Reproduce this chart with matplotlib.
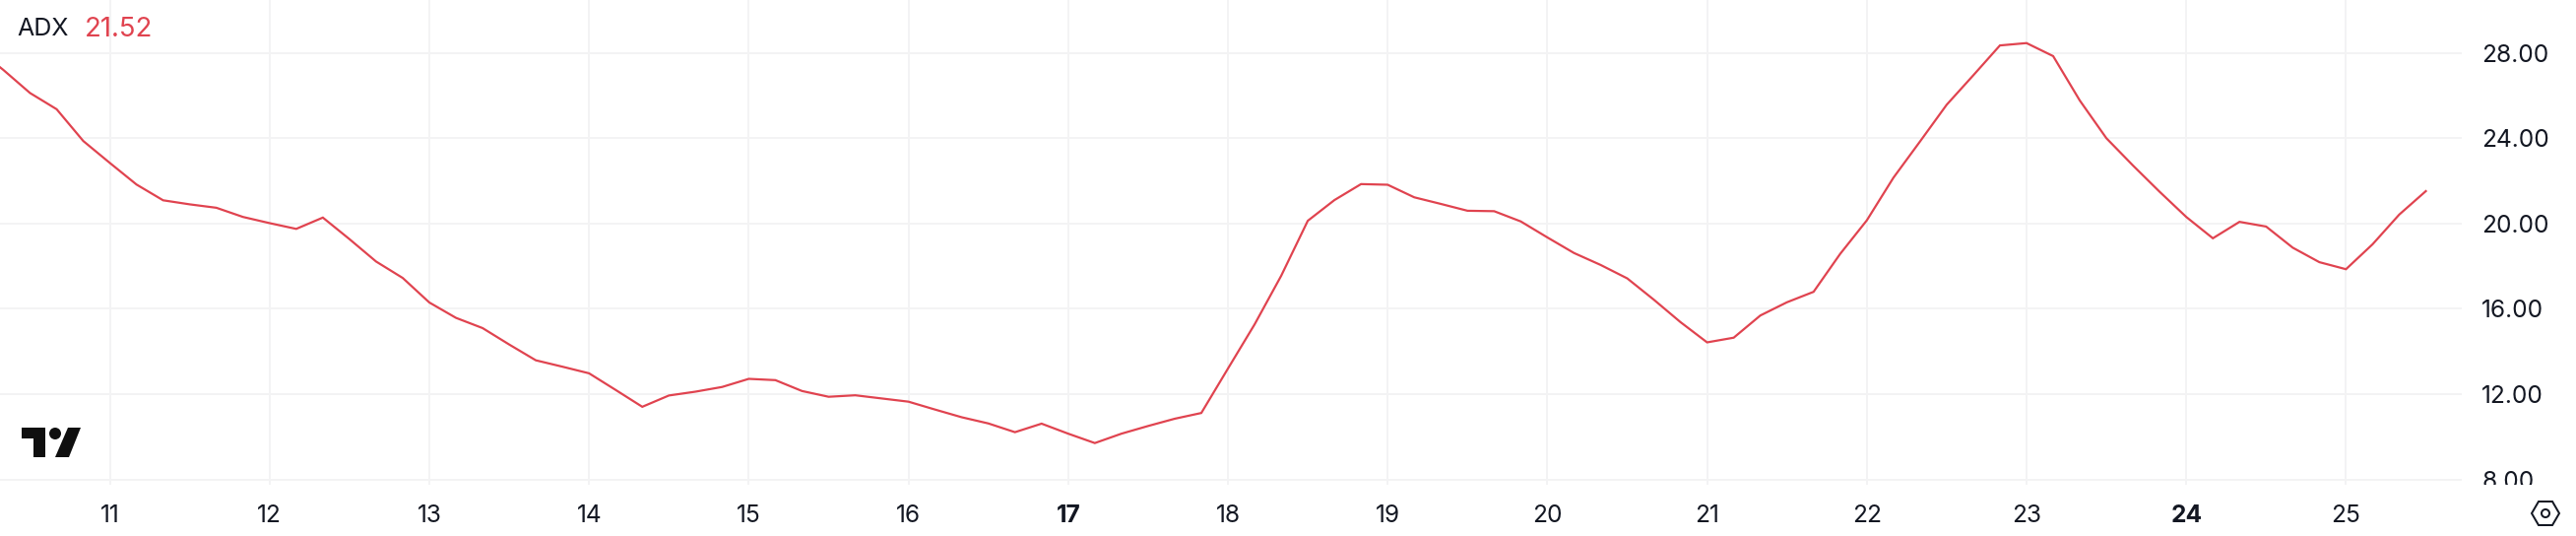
import numpy as np
import matplotlib
matplotlib.use("Agg")
import matplotlib.pyplot as plt
from matplotlib.patches import Polygon, Circle
from matplotlib.transforms import Affine2D, Bbox

W, H = 2616, 544
RED = "#e0434f"
INK = "#131722"
GRID = "#f3f3f4"

# 4h candles, first one sits just left of the visible area
first_day = 10 + 1 / 6
adx = [
	28.2, 27.2, 26.12, 25.36, 23.87, 22.84, 21.83, 21.09, 20.9, 20.74, 20.31, 20.02,
	19.75, 20.28, 19.27, 18.22, 17.45, 16.3, 15.58, 15.1, 14.33, 13.59, 13.29, 12.98,
	12.2, 11.41, 11.94, 12.12, 12.34, 12.72, 12.66, 12.15, 11.88, 11.95, 11.8, 11.65,
	11.28, 10.92, 10.63, 10.22, 10.62, 10.15, 9.71, 10.15, 10.51, 10.85, 11.12, 13.2,
	15.27, 17.55, 20.13, 21.1, 21.85, 21.82, 21.23, 20.92, 20.6, 20.58, 20.1, 19.35,
	18.62, 18.06, 17.43, 16.43, 15.38, 14.43, 14.65, 15.69, 16.31, 16.8, 18.58, 20.15,
	22.15, 23.85, 25.57, 26.95, 28.35, 28.46, 27.85, 25.77, 24.0, 22.72, 21.49, 20.31,
	19.31, 20.08, 19.86, 18.87, 18.19, 17.86, 19.03, 20.42, 21.52,
]
day_ticks = [11, 12, 13, 14, 15, 16, 17, 18, 19, 20, 21, 22, 23, 24, 25]
bold_days = [17, 24]
y_ticks = [8, 12, 16, 20, 24, 28]
y_labels = ["8.00", "12.00", "16.00", "20.00", "24.00", "28.00"]

plt.rcParams["font.family"] = ["Inter", "DejaVu Sans"]


def px(size):
	return size * 0.72


fig = plt.figure(figsize=(W / 100, H / 100), dpi=100, facecolor="white")
ax = fig.add_axes([0, 1 - 492 / H, 2500 / W, 492 / H])
days = first_day + np.arange(len(adx)) / 6
ax.plot(days, adx, color=RED, lw=px(2.2), solid_joinstyle="miter", zorder=3)
ax.set_xlim(10.312, 25.725)
ax.set_ylim(7.755, 30.48)

for s in ax.spines.values():
	s.set_visible(False)
ax.set_xticks(day_ticks)
ax.set_yticks(y_ticks)
ax.set_yticklabels(y_labels)
ax.grid(True, color=GRID, lw=px(2))
ax.set_axisbelow(True)
ax.yaxis.tick_right()
ax.tick_params(axis="both", length=0, labelcolor=INK)
ax.tick_params(axis="y", pad=px(20), labelsize=px(24.5))
ax.tick_params(axis="x", pad=px(20), labelsize=px(24.5))

# bottom label is cut off by the time scale
clip = Bbox([[0, H - 492], [W, H]])
for lab in ax.get_yticklabels():
	lab.set_clip_box(clip)
	lab.set_clip_on(True)
for d, lab in zip(day_ticks, ax.get_xticklabels()):
	if d in bold_days:
		lab.set_fontweight("bold")

# legend
top = Affine2D().scale(1, -1).translate(0, H)
fig.text(17, 27, "ADX", transform=top, fontsize=px(25), color=INK, va="center_baseline")
fig.text(86, 27, "21.52", transform=top, fontsize=px(27.5), color=RED, va="center_baseline")

# logo
logo = "#0f0f0f"
fig.add_artist(Polygon([(22, 434), (45.7, 434), (45.7, 464), (34, 464), (34, 445), (22, 445)],
	closed=True, fc=logo, ec="none", transform=top))
fig.add_artist(Circle((56, 440), 6, fc=logo, ec="none", transform=top))
fig.add_artist(Polygon([(69, 434), (82, 434), (70, 464), (56, 464)],
	closed=True, fc=logo, ec="none", transform=top))

# settings icon
cx, cy = 2585, 521
fig.add_artist(Polygon([(cx - 14, cy), (cx - 7, cy - 12), (cx + 7, cy - 12), (cx + 14, cy), (cx + 7, cy + 12), (cx - 7, cy + 12)],
	closed=True, fc="none", ec=INK, lw=px(2), transform=top))
fig.add_artist(Circle((cx, cy), 4, fc="none", ec=INK, lw=px(2), transform=top))

fig.savefig("out.png", dpi=100)
